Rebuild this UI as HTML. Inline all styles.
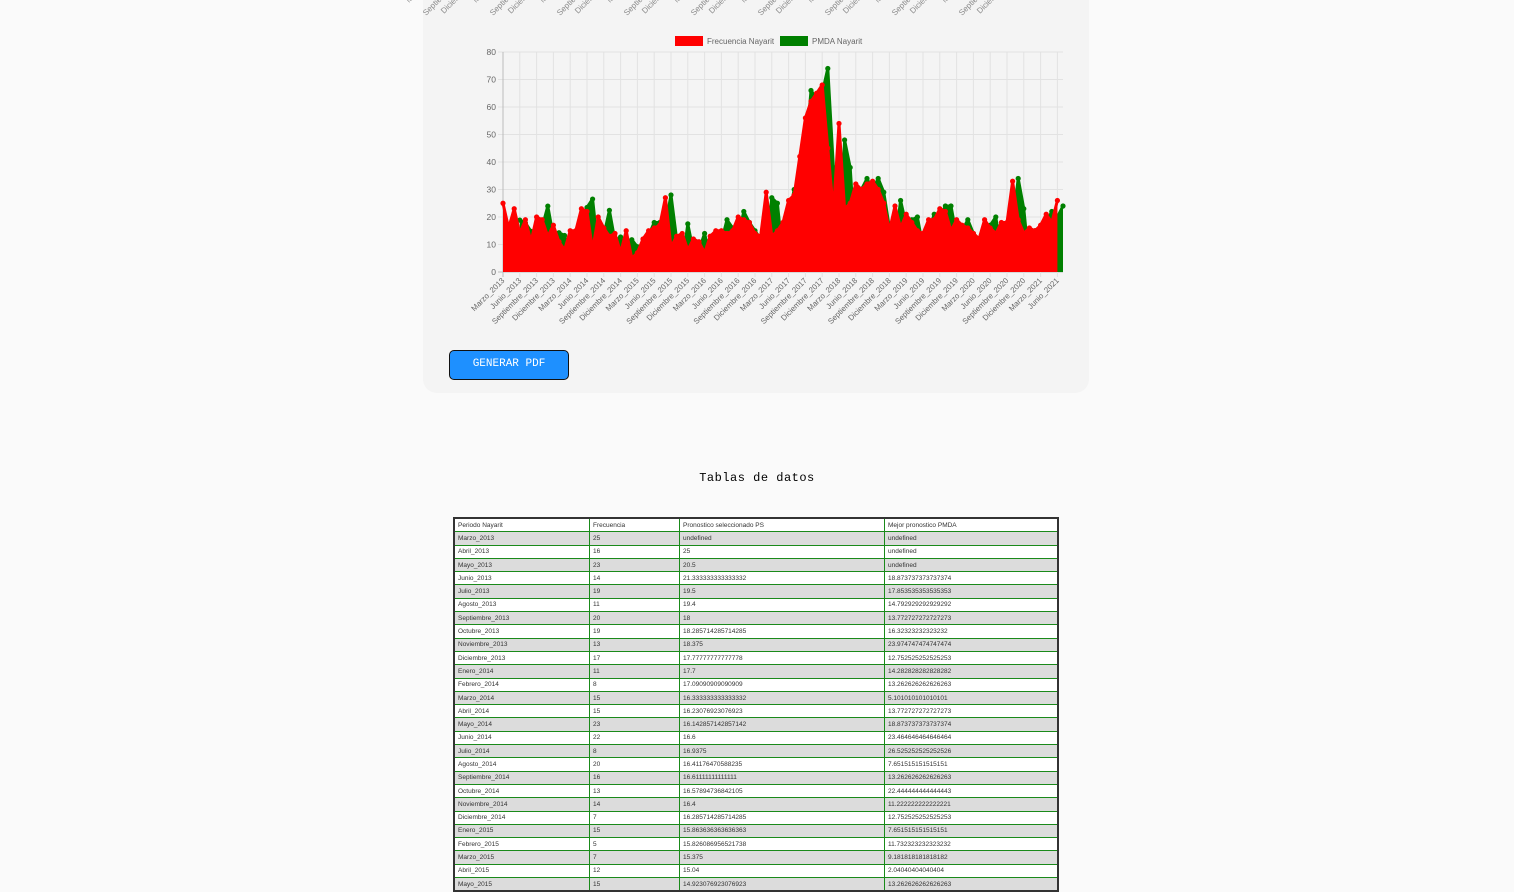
<!DOCTYPE html>
<html><head><meta charset="utf-8">
<style>
html,body{margin:0;background:#fafafa;width:1514px;height:890px;overflow:hidden;font-family:"Liberation Sans",sans-serif;}
#panel{position:absolute;left:423px;top:-20px;width:666px;height:413px;background:#f4f4f4;border-radius:0 0 14px 14px;}
#chart{position:absolute;left:0;top:0;}
#pdf{position:absolute;left:449px;top:350px;width:120px;height:30px;box-sizing:border-box;background:#1e90ff;border:1.5px solid #111;border-radius:5px;color:#fff;font-family:"Liberation Mono",monospace;font-size:11px;text-align:center;line-height:27px;}
#title{position:absolute;left:0;width:1514px;top:471px;text-align:center;font-family:"Liberation Mono",monospace;font-size:12px;letter-spacing:0.5px;}
table{position:absolute;left:453px;top:517px;width:606px;border-collapse:collapse;border:2px solid #333;font-size:6.5px;color:#333;}
td{border:1px solid #1a8a1a;height:12.3px;padding:0 3px;white-space:nowrap;}
tr:nth-child(even){background:#dcdcdc;}
tr:nth-child(odd){background:#fff;}
</style></head><body>
<div id="panel"></div>
<svg id="chart" width="1514" height="400"></svg>
<div id="pdf">GENERAR PDF</div>
<div id="title">Tablas de datos</div>
<table id="tbl"></table>
<script>
const months=["Enero","Febrero","Marzo","Abril","Mayo","Junio","Julio","Agosto","Septiembre","Octubre","Noviembre","Diciembre"];
const categories=[];
for(let k=0;k<101;k++){const m=(2+k)%12,y=2013+Math.floor((2+k)/12);categories.push(months[m]+"_"+y);}
const freq=[25,16,23,14,19,11,20,19,13,17,11,8,15,15,23,22,8,20,16,13,14,7,15,5,7,12,15,
16,17,27,9,13,14,8,12,11,7,13,15,15,14,15,20,19,18,14,13,29,13,15,18,26,28,42,56,62,65,68,45,22,54,23,25,32,30,32,33,30,25,15,24,16,21,18,15,14,19,19,23,22,15,19,17,16,14,12,19,16,14,18,18,33,19,14,16,15,17,21,18,26];
const pmda=[null,null,null,18.87,17.85,14.79,13.77,16.32,23.97,12.75,14.28,13.26,5.10,13.77,18.87,23.46,26.53,7.65,13.26,22.44,11.22,12.75,7.65,11.73,9.18,2.04,13.26,
18,18,17,28,12,2.5,17.5,7.5,8,14,5,6,11,19,16,13,22,18,15,12,7,27,25,5,20,30,29,42,66,63,65,74,38,6,48,38,6,30,34,30,34,29,16,10,26,17,19,20,9,15,21,20,24,24,13,15,19,14,12,8.6,17,20,7,13,17,34,23,2.5,15,16,18,22,20,24];
const yTicks=[0,10,20,30,40,50,60,70,80];
const NS="http://www.w3.org/2000/svg";
const svg=document.getElementById('chart');
const X0=503,X1=1063,Y0=272,Y1=52;
const xs=i=>X0+(X1-X0)*i/(categories.length-1);
const ys=v=>Y0-(Y0-Y1)*v/80;
function mk(t,a,p){const e=document.createElementNS(NS,t);for(const k in a)e.setAttribute(k,a[k]);(p||svg).appendChild(e);return e;}
// top clipped labels of previous chart
for(let j=-1;j<8;j++){const bx=493+j*67;
 [["Septiembre_2013",0,16],["Diciembre_2013",18,14],["Marzo_2014",-17,3]].forEach(([s,dx,y])=>{const x=bx+dx;const t=mk('text',{x:x,y:y,transform:`rotate(-45 ${x} ${y})`,'font-size':8,fill:'#888','text-anchor':'start'});t.textContent=s;
 
 });}
// grid
yTicks.forEach(v=>{const l=mk('line',{x1:X0-5,x2:X1,y1:ys(v),y2:ys(v),stroke:v==0?'#bbb':'#e2e2e2'});
 
 
 const t=mk('text',{x:X0-7,y:ys(v)+3,'font-size':8.5,fill:'#666','text-anchor':'end'});t.textContent=v;
 
 });
categories.forEach((c,i)=>{if(i%3)return;const x=xs(i);
 const l=mk('line',{x1:x,x2:x,y1:Y1,y2:Y0+5,stroke:i==0?'#bbb':'#e2e2e2'});
 
 
 const t=mk('text',{x:x+2,y:Y0+9,transform:`rotate(-45 ${x+2} ${Y0+9})`,'font-size':7.8,fill:'#666','text-anchor':'end'});t.textContent=c;
 
 });
function series(arr,col,name){
 const pts=[];arr.forEach((v,i)=>{if(v!=null)pts.push([xs(i),ys(v)]);});
 const line=pts.map((p,k)=>(k?'L':'M')+p[0].toFixed(1)+' '+p[1].toFixed(1)).join(' ');
 const a=mk('path',{d:line+` L${pts[pts.length-1][0]} ${Y0} L${pts[0][0]} ${Y0} Z`,fill:col});
 
 
 const l=mk('path',{d:line,fill:'none',stroke:col,'stroke-width':3,'stroke-linejoin':'round'});
 
 
 pts.forEach(p=>{const c=mk('circle',{cx:p[0],cy:p[1],r:2.6,fill:col});
  
  });
}
series(pmda,'#008000','pmda-nayarit');
series(freq,'#ff0000','frecuencia-nayarit');
// legend
[["Frecuencia Nayarit",'#ff0000',675],["PMDA Nayarit",'#008000',780]].forEach(([n,c,x])=>{
 const r=mk('rect',{x:x,y:36,width:28,height:10,fill:c});
 
 
 const t=mk('text',{x:x+32,y:44,'font-size':8,fill:'#666'});t.textContent=n;
 
 });
// table
const ps=["undefined","25","20.5","21.333333333333332","19.5","19.4","18","18.285714285714285","18.375","17.77777777777778","17.7","17.09090909090909","16.333333333333332","16.23076923076923","16.142857142857142","16.6","16.9375","16.41176470588235","16.61111111111111","16.57894736842105","16.4","16.285714285714285","15.863636363636363","15.826086956521738","15.375","15.04","14.923076923076923"];
const pm=["undefined","undefined","undefined","18.873737373737374","17.853535353535353","14.792929292929292","13.772727272727273","16.32323232323232","23.974747474747474","12.752525252525253","14.282828282828282","13.262626262626263","5.101010101010101","13.772727272727273","18.873737373737374","23.464646464646464","26.525252525252526","7.651515151515151","13.262626262626263","22.444444444444443","11.222222222222221","12.752525252525253","7.651515151515151","11.732323232323232","9.181818181818182","2.04040404040404","13.262626262626263"];
const tb=document.getElementById('tbl');
let h='<tr><td style="width:128px">Periodo Nayarit</td><td style="width:83px">Frecuencia</td><td style="width:198px">Pronostico seleccionado PS</td><td>Mejor pronostico PMDA</td></tr>';
for(let i=0;i<27;i++){h+=`<tr><td>${categories[i]}</td><td>${freq[i]}</td><td>${ps[i]}</td><td>${pm[i]}</td></tr>`;}
tb.innerHTML=h;
</script>
</body></html>
